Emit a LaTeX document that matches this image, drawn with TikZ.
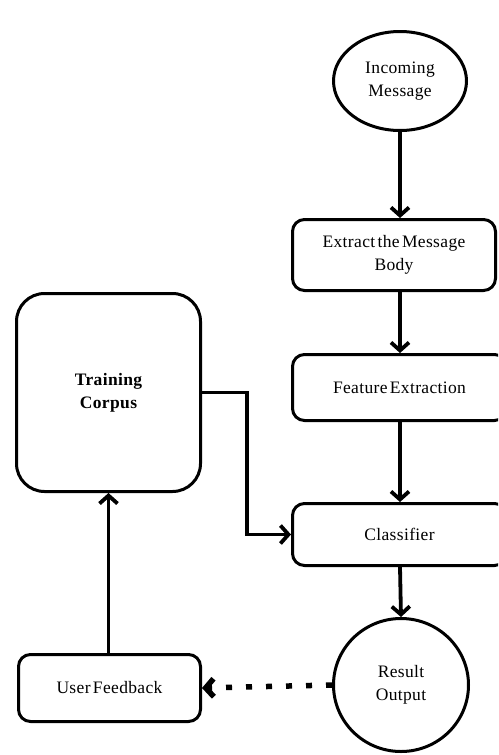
\documentclass[tikz,border=0pt]{standalone}
\usepackage{fontspec}
\setmainfont{Liberation Serif}[WordSpace=0.5, LetterSpace=2]
\usetikzlibrary{arrows.meta, positioning, shapes.geometric}

\begin{document}
\begin{tikzpicture}[
        x=1pt, y=-1pt,
        block/.style={rectangle, draw, line width=3pt, rounded corners=12pt,
                      minimum width=214pt, align=center, inner sep=0pt,
                      font=\fontsize{17.5}{23}\selectfont},
        bubble/.style={ellipse, draw, line width=3pt, align=center,
                       inner sep=0pt, font=\fontsize{17.5}{23}\selectfont},
        arr/.style={-{Straight Barb[length=8pt, width=18pt]}, line width=3.8pt},
        dotarr/.style={arr, line width=5.5pt, dash pattern=on 6pt off 14pt}
    ]
        \useasboundingbox (0,0) rectangle (498,755);
        \clip (0,0) rectangle (498,755);
        \node[bubble, minimum width=133pt, minimum height=99pt] (msg) at (400,81) {Incoming\\Message};
        \node[block, minimum width=203pt, minimum height=71pt] (extract) at (394,255) {Extract the Message\\Body};
        \node[block, minimum height=66pt] (feature) at (399.5,387.5) {Feature Extraction};
        \node[block, minimum height=62pt] (classify) at (399.5,534.5) {Classifier};
        \node[bubble, minimum width=135pt, minimum height=133pt] (result) at (401,685) {Result\\Output};
        \node[block, rounded corners=28pt, minimum width=184pt, minimum height=198pt,
              font=\fontsize{17.5}{23}\selectfont\bfseries] (corpus) at (108.5,392.5) {Training\\Corpus};
        \node[block, minimum width=182pt, minimum height=67pt] (feedback) at (109.5,688) {User Feedback};
        \draw[arr] (msg.south) -- (msg.south |- extract.north);
        \draw[arr] (msg.south |- extract.south) -- (msg.south |- feature.north);
        \draw[arr] (msg.south |- feature.south) -- (msg.south |- classify.north);
        \draw[arr] (msg.south |- classify.south) -- (result.north);
        \draw[arr] (corpus.east) -- ++(45,0) |- (classify.west);
        \draw[arr] (corpus.south |- feedback.north) -- (corpus.south);
        \draw[dotarr] (result.west) -- (feedback.east);
    \end{tikzpicture}
\end{document}
